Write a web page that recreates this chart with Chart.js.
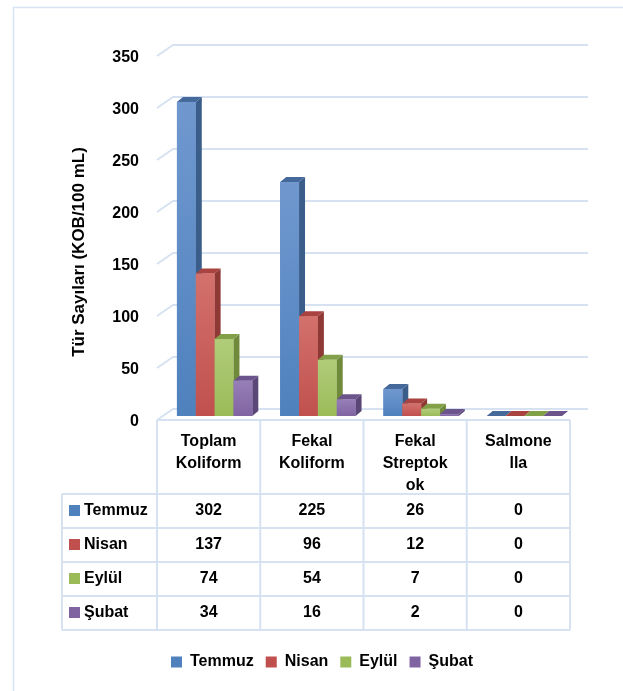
<!DOCTYPE html>
<html>
<head>
<meta charset="utf-8">
<script src="https://cdn.jsdelivr.net/npm/chart.js@4.4.0/dist/chart.umd.min.js"></script>
<style>
  html, body { margin: 0; padding: 0; background: #fff; }
  #wrap { width: 623px; height: 691px; }
</style>
</head>
<body>
<div id="wrap"><canvas id="chart" width="623" height="691"></canvas></div>
<script>
// ---------------- DATA ----------------
const categories = [["Toplam", "Koliform"], ["Fekal", "Koliform"], ["Fekal", "Streptok", "ok"], ["Salmone", "lla"]];
const seriesNames = ["Temmuz", "Nisan", "Eylül", "Şubat"];
const temmuz = [302, 225, 26, 0];
const nisan = [137, 96, 12, 0];
const eylul = [74, 54, 7, 0];
const subat = [34, 16, 2, 0];
const yMax = 350;
const yStep = 50;
const yTitle = "Tür Sayıları (KOB/100 mL)";

// colours: base, gradient top, side face, top face
const colors = [
  { base: "#4f81bd", light: "#7098cf", side: "#3b5d8a", top: "#46699b" },
  { base: "#c0504d", light: "#d3716d", side: "#8f3936", top: "#a8433f" },
  { base: "#9bbb59", light: "#b0cc79", side: "#6f8a3b", top: "#82a047" },
  { base: "#8064a2", light: "#977fb8", side: "#5b4678", top: "#6b538b" }
];
const seriesValues = [temmuz, nisan, eylul, subat];

Chart.defaults.font.family = "'Liberation Sans', Arial, sans-serif";
Chart.defaults.font.weight = "bold";
Chart.defaults.font.size = 16;
Chart.defaults.color = "#000";

const DX = 6, DY = -5;          // bar depth
const FRONT_DX = -6, FRONT_DY = 4; // front plane vs bar plane
const BACK_DX = 10, BACK_DY = -7;  // back wall vs bar plane
const LINE = "#d6e2f2";

const bars3d = {
  id: "bars3d",
  beforeDraw(chart) {
    const ctx = chart.ctx;
    ctx.save();
    ctx.strokeStyle = LINE;
    ctx.lineWidth = 1.5;
    ctx.strokeRect(13.5, 7.5, 700, 700);
    ctx.restore();
  },
  beforeDatasetsDraw(chart) {
    // 3D gridlines: diagonal on the side wall, then along the back wall
    const ctx = chart.ctx, ys = chart.scales.y, area = chart.chartArea;
    ctx.save();
    ctx.strokeStyle = LINE;
    ctx.lineWidth = 2;
    ys.ticks.forEach(t => {
      const y = ys.getPixelForValue(t.value);
      ctx.beginPath();
      ctx.moveTo(area.left + FRONT_DX, y + FRONT_DY);
      ctx.lineTo(area.left + BACK_DX, y + BACK_DY);
      ctx.lineTo(area.right + BACK_DX + 2, y + BACK_DY);
      ctx.stroke();
    });
    ctx.restore();
  },
  afterDatasetsDraw(chart) {
    const ctx = chart.ctx;
    ctx.save();
    categories.forEach((c, i) => {
      seriesNames.forEach((s, d) => {
        const bar = chart.getDatasetMeta(d).data[i];
        const { x, y, base, width } = bar.getProps(["x", "y", "base", "width"], true);
        const l = x - width / 2, r = x + width / 2;
        const col = colors[d];
        // side
        ctx.fillStyle = col.side;
        ctx.beginPath();
        ctx.moveTo(r, y); ctx.lineTo(r + DX, y + DY); ctx.lineTo(r + DX, base + DY); ctx.lineTo(r, base);
        ctx.closePath(); ctx.fill();
        // top
        ctx.fillStyle = col.top;
        ctx.beginPath();
        ctx.moveTo(l, y); ctx.lineTo(l + DX, y + DY); ctx.lineTo(r + DX, y + DY); ctx.lineTo(r, y);
        ctx.closePath(); ctx.fill();
        // front
        if (base - y > 0) {
          const g = ctx.createLinearGradient(0, y, 0, base);
          g.addColorStop(0, col.light);
          g.addColorStop(1, col.base);
          ctx.fillStyle = g;
          ctx.fillRect(l, y, width, base - y);
        }
      });
    });
    ctx.restore();
  },
  afterDraw(chart) {
    const ctx = chart.ctx, xs = chart.scales.x, ys = chart.scales.y;
    const fx = xs.left + FRONT_DX;
    const colW = xs.width / categories.length;
    const y0 = ys.getPixelForValue(0) + FRONT_DY;
    const headH = 74, rowH = 34, labelLeft = 62;
    const hb = y0 + headH;
    const tb = hb + rowH * seriesNames.length;
    const right = fx + colW * categories.length;

    ctx.save();
    ctx.strokeStyle = LINE;
    ctx.lineWidth = 2;
    ctx.beginPath();
    ctx.moveTo(fx, y0); ctx.lineTo(right, y0);
    for (let r = 0; r <= seriesNames.length; r++) {
      ctx.moveTo(labelLeft, hb + r * rowH); ctx.lineTo(right, hb + r * rowH);
    }
    for (let k = 0; k <= categories.length; k++) {
      ctx.moveTo(fx + k * colW, y0); ctx.lineTo(fx + k * colW, tb);
    }
    ctx.moveTo(labelLeft, hb); ctx.lineTo(labelLeft, tb);
    ctx.stroke();

    ctx.font = "bold 16px 'Liberation Sans', Arial, sans-serif";
    ctx.fillStyle = "#000";
    ctx.textBaseline = "middle";
    seriesNames.forEach((name, r) => {
      const cy = hb + r * rowH + rowH / 2;
      ctx.fillStyle = colors[r].base;
      ctx.fillRect(69, cy - 6, 11, 11);
      ctx.fillStyle = "#000";
      ctx.textAlign = "left";
      ctx.fillText(name, 84, cy);
      ctx.textAlign = "center";
      seriesValues[r].forEach((v, k) => {
        ctx.fillText(String(v), fx + (k + 0.5) * colW, cy);
      });
    });

    // y axis title
    ctx.translate(79, 252);
    ctx.rotate(-Math.PI / 2);
    ctx.font = "bold 17px 'Liberation Sans', Arial, sans-serif";
    ctx.textAlign = "center";
    ctx.fillText(yTitle, 0, 0);
    ctx.restore();
  }
};

new Chart(document.getElementById("chart"), {
  type: "bar",
  data: {
    labels: categories,
    datasets: seriesNames.map((name, d) => ({
      label: name,
      data: seriesValues[d],
      backgroundColor: colors[d].base,
      borderWidth: 0
    }))
  },
  options: {
    responsive: false,
    animation: false,
    layout: { padding: { left: 68, right: 47, top: 52, bottom: 11 } },
    datasets: { bar: { categoryPercentage: 0.73, barPercentage: 1.0 } },
    plugins: {
      legend: {
        position: "bottom",
        labels: { boxWidth: 11, boxHeight: 11, padding: 12, font: { size: 16, weight: "bold" } }
      },
      tooltip: { enabled: false }
    },
    scales: {
      x: {
        grid: { display: false, drawTicks: false },
        border: { display: false },
        ticks: { padding: 14, labelOffset: FRONT_DX, maxRotation: 0, autoSkip: false, font: { size: 16, weight: "bold", lineHeight: 1.4 } },
        afterFit: s => { s.height = 226; }
      },
      y: {
        min: 0,
        max: yMax,
        grid: { display: false, drawTicks: false },
        border: { display: false },
        ticks: { stepSize: yStep, padding: 24, labelOffset: 6, font: { size: 16, weight: "bold" } },
        afterFit: s => { s.width = 95; }
      }
    }
  },
  plugins: [bars3d]
});
</script>
</body>
</html>
